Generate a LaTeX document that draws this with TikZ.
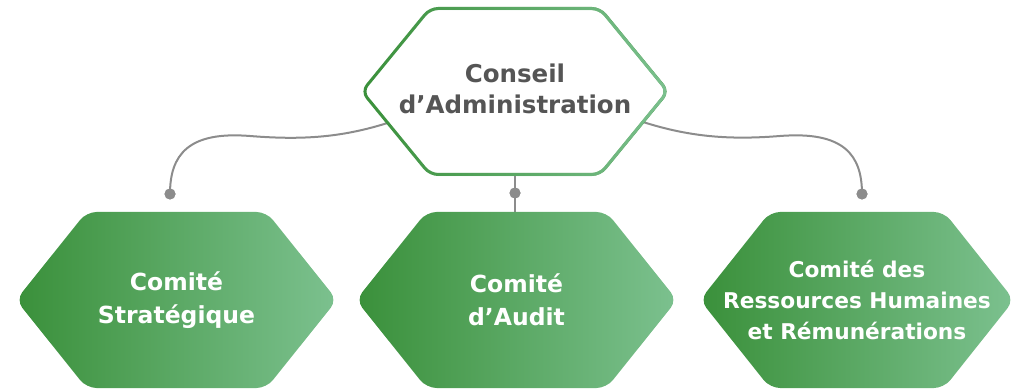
\documentclass[tikz,border=0pt]{standalone}
\usepackage{fontspec}
\setmainfont{DejaVu Sans}
\usetikzlibrary{calc,fadings}
\definecolor{gDark}{HTML}{3A903A}
\definecolor{gLight}{HTML}{7CC18F}
\definecolor{linkgray}{HTML}{8C8C8C}
\definecolor{txtgray}{HTML}{555555}
\tikzfading[name=fadeR, left color=transparent!100, right color=transparent!0]
\tikzset{
  pics/hexa/.style n args={3}{code={\path[pic actions] (-#1,0) -- (-#2,-#3) -- (#2,-#3) -- (#1,0) -- (#2,#3) -- (-#2,#3) -- cycle;}},
  link/.style={draw=linkgray, line width=2pt},
  dot/.style={circle, fill=linkgray, inner sep=0pt, minimum size=11pt},
  toptext/.style={font=\bfseries\fontsize{24.5}{31}\selectfont, text=txtgray, align=center},
  bottext/.style={font=\bfseries\fontsize{23.5}{33}\selectfont, text=white, align=center},
  smalltext/.style={font=\bfseries\fontsize{21.7}{31}\selectfont, text=white, align=center},
  hexfill/.style={left color=gDark, right color=gLight, rounded corners=10pt},
}
\begin{document}
\begin{tikzpicture}[x=1pt,y=-1pt]
\useasboundingbox (0,0) rectangle (1013,390);
% centres
\coordinate (hca) at (515,91.5);
\coordinate (hcs) at (176.5,300);
\coordinate (hcau) at (516.5,300);
\coordinate (hcrh) at (857,300);
% connector end points
\coordinate (caL) at (387.5,123);
\coordinate (caR) at (643,122);
\coordinate (caB) at (515,174);
\coordinate (cauT) at (515,213);
\node[dot] (dL) at (170,194) {};
\node[dot] (dR) at (862,194) {};
\node[dot] (dM) at (515,193) {};
% connectors
\draw[link] (caL) .. controls (340,138) and (300,140) .. (250,136)
            .. controls (188,131) and (170,155) .. (dL.center);
\draw[link] (caR) .. controls (690,137) and (730,140) .. (780,136)
            .. controls (844,131) and (862,155) .. (dR.center);
\draw[link] (caB) -- (dM.center) -- (cauT);
\node[dot] at (dL) {};
\node[dot] at (dR) {};
\node[dot] at (dM) {};
% top hexagon
\pic[fill=white, draw=gDark, line width=3pt, rounded corners=8pt] at (hca) {hexa={153}{85}{83}};
\pic[draw=gLight, line width=3pt, rounded corners=8pt, path fading=fadeR] at (hca) {hexa={153}{85}{83}};
% bottom hexagons
\pic[hexfill] at (hcs) {hexa={160.5}{90}{88}};
\pic[hexfill] at (hcau) {hexa={160.5}{90}{88}};
\pic[hexfill] at (hcrh) {hexa={157}{87}{88}};
% texts
\node[toptext] (ca) at (515,89) {Conseil\\d’Administration};
\node[bottext] (cs) at (hcs) {Comité\\Stratégique};
\node[bottext] (cau) at (hcau) {Comité\\d’Audit};
\node[smalltext] (crh) at (hcrh) {Comité des\\Ressources Humaines\\et Rémunérations};
\end{tikzpicture}
\end{document}
